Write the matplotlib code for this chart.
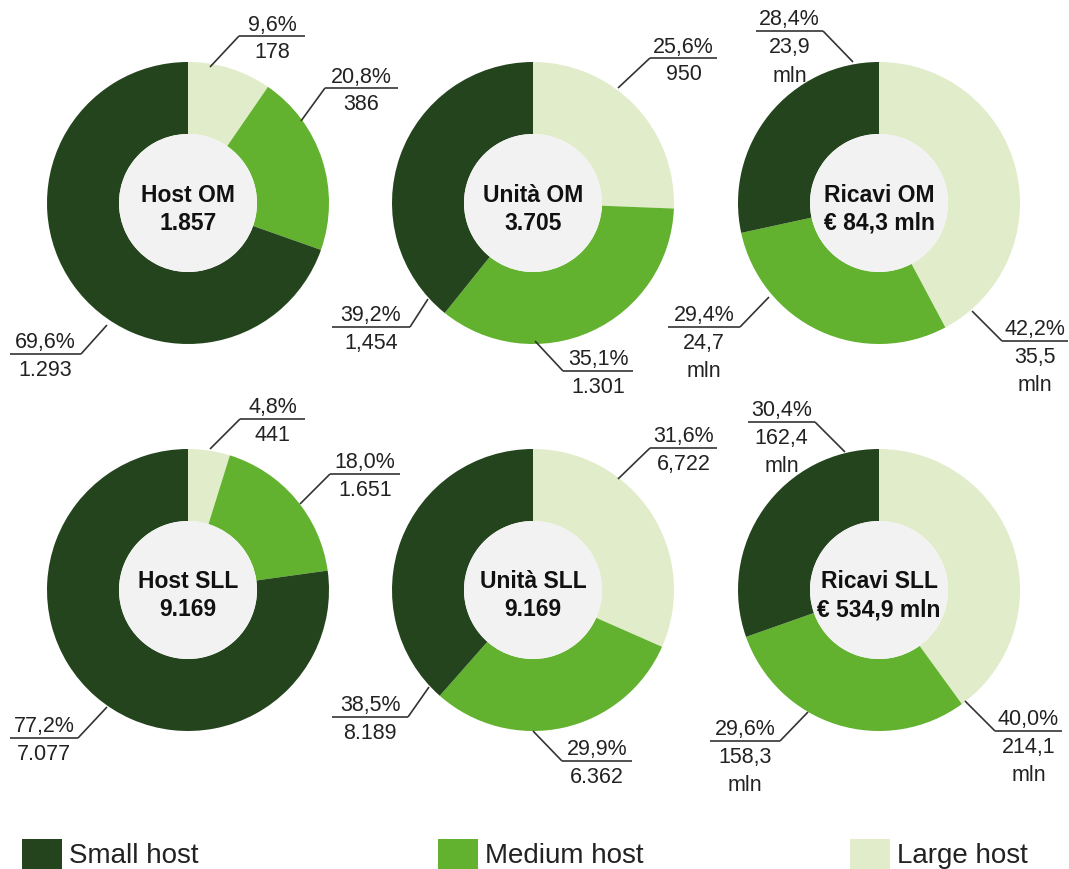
import matplotlib.pyplot as plt
from matplotlib.patches import Circle, Rectangle

plt.rcParams['font.family'] = ['Liberation Sans', 'DejaVu Sans']

# segment order inside each ring: large, medium, small (clockwise from 12 o'clock)
segments = ["Large host", "Medium host", "Small host"]
colors = ["#e1ecca", "#62b22f", "#24441d"]

titles = ["Host OM", "Unità OM", "Ricavi OM", "Host SLL", "Unità SLL", "Ricavi SLL"]
totals = ["1.857", "3.705", "€ 84,3 mln", "9.169", "9.169", "€ 534,9 mln"]

large_pct = [9.6, 25.6, 42.2, 4.8, 31.6, 40.0]
medium_pct = [20.8, 35.1, 29.4, 18.0, 29.9, 29.6]
small_pct = [69.6, 39.2, 28.4, 77.2, 38.5, 30.4]

large_val = ["178", "950", "35,5\nmln", "441", "6,722", "214,1\nmln"]
medium_val = ["386", "1.301", "24,7\nmln", "1.651", "6.362", "158,3\nmln"]
small_val = ["1.293", "1,454", "23,9\nmln", "7.077", "8.189", "162,4\nmln"]

# layout in pixels
centers = [(188, 204), (533, 204), (879, 204), (188, 591), (533, 591), (879, 591)]
R_OUT, R_IN = 141, 69

# per label: leader tip on the ring, underline x0, x1, y
callouts = [
    [(210, 68, 239, 305, 37), (301, 122, 325, 398, 89), (107, 326, 10, 81, 355)],
    [(618, 89, 650, 717, 59), (535, 342, 563, 633, 372), (428, 300, 332, 410, 328)],
    [(972, 312, 1002, 1068, 342), (769, 298, 668, 740, 328), (853, 63, 756, 823, 32)],
    [(210, 450, 240, 305, 420), (300, 505, 330, 400, 475), (107, 708, 10, 78, 739)],
    [(618, 480, 650, 717, 449), (533, 732, 562, 632, 762), (429, 688, 332, 408, 718)],
    [(965, 702, 995, 1062, 732), (808, 713, 710, 780, 742), (845, 453, 748, 815, 423)],
]

TXT = "#222222"
LINE = "#333333"

fig = plt.figure(figsize=(10.69, 8.70), dpi=100)
ax = fig.add_axes([0, 0, 1, 1])


def fmt_pct(p):
    return f"{p:.1f}%".replace(".", ",")


for i, title in enumerate(titles):
    cx, cy = centers[i]
    shares = [large_pct[i], medium_pct[i], small_pct[i]]
    vals = [large_val[i], medium_val[i], small_val[i]]
    # y axis is inverted, so counterclock=True with -90 runs clockwise from the top
    ax.pie(shares, colors=colors, center=(cx, cy), radius=R_OUT,
           startangle=-90, counterclock=True,
           wedgeprops=dict(width=R_OUT - R_IN, edgecolor="none"))
    ax.add_patch(Circle((cx, cy), R_IN, facecolor="#f2f2f2", edgecolor="none", zorder=3))
    ax.text(cx, cy - 9, title, ha="center", va="center", fontsize=16.5,
            fontweight="bold", color="#111111", zorder=4)
    ax.text(cx, cy + 19, totals[i], ha="center", va="center", fontsize=16.5,
            fontweight="bold", color="#111111", zorder=4)

    for j, (tx, ty, x0, x1, uy) in enumerate(callouts[i]):
        near = x1 if tx > (x0 + x1) / 2 else x0
        ax.plot([tx, near], [ty, uy], color=LINE, lw=1.2, solid_capstyle="butt", zorder=5)
        ax.plot([x0, x1], [uy, uy], color=LINE, lw=1.2, solid_capstyle="butt", zorder=5)
        xm = (x0 + x1) / 2
        ax.text(xm, uy - 12, fmt_pct(shares[j]), ha="center", va="center",
                fontsize=15.5, color=TXT, zorder=5)
        lines = vals[j].split("\n")
        ax.text(xm, uy + 16, lines[0], ha="center", va="center",
                fontsize=15.5, color=TXT, zorder=5)
        if len(lines) > 1:
            ax.text(xm, uy + 44, lines[1], ha="center", va="center",
                    fontsize=15.5, color=TXT, zorder=5)

# legend row
legend_x = [22, 438, 850]
for k, name in enumerate(["Small host", "Medium host", "Large host"]):
    col = colors[segments.index(name)]
    ax.add_patch(Rectangle((legend_x[k], 840), 40, 32, facecolor=col, edgecolor="none"))
    ax.text(legend_x[k] + 47, 856, name, ha="left", va="center", fontsize=20, color=TXT)

ax.set_xlim(0, 1069)
ax.set_ylim(870, 0)
ax.set_aspect("equal")
ax.axis("off")

fig.savefig("out.png", dpi=100, facecolor="white")
